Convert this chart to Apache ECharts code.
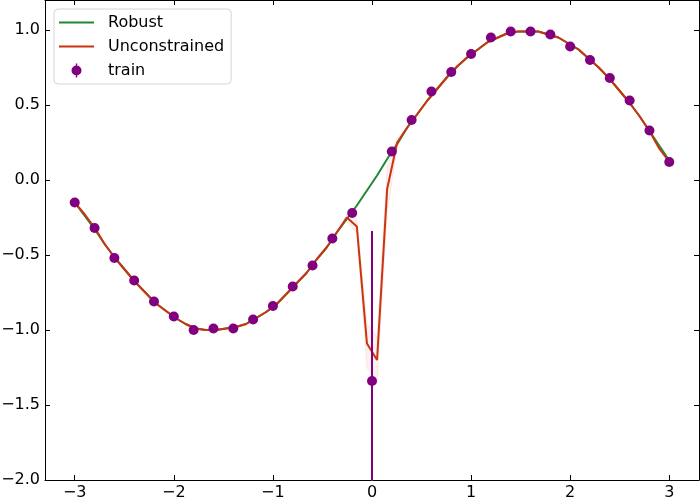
<!DOCTYPE html>
<html>
<head>
    <meta charset="UTF-8">
    <script src="https://cdn.jsdelivr.net/npm/echarts@6/dist/echarts.min.js"></script>
    <style>
        html, body { margin: 0; padding: 0; background: #fff; }
        #main { width: 700px; height: 500px; }
    </style>
</head>
<body>
<div id="main"></div>
<script type="text/javascript">
    // training points (x step 0.2), outlier at x = 0
    var trainX = [-3.0, -2.8, -2.6, -2.4, -2.2, -2.0, -1.8, -1.6, -1.4, -1.2, -1.0, -0.8, -0.6, -0.4, -0.2,
        0.0, 0.2, 0.4, 0.6, 0.8, 1.0, 1.2, 1.4, 1.6, 1.8, 2.0, 2.2, 2.4, 2.6, 2.8, 3.0];
    var trainY = [-0.15, -0.32, -0.52, -0.67, -0.81, -0.91, -1.00, -0.99, -0.99, -0.93, -0.84, -0.71, -0.57, -0.39, -0.22,
        -1.34, 0.19, 0.40, 0.59, 0.72, 0.84, 0.95, 0.99, 0.99, 0.97, 0.89, 0.80, 0.68, 0.53, 0.33, 0.12];
    // error bar on the outlier
    var errX = 0.0;
    var errLow = -2.34;
    var errHigh = -0.34;

    // prediction grid, 60 points from -3 to 3
    var gridX = [-3.000, -2.898, -2.797, -2.695, -2.593, -2.492, -2.390, -2.288, -2.186, -2.085,
        -1.983, -1.881, -1.780, -1.678, -1.576, -1.475, -1.373, -1.271, -1.169, -1.068,
        -0.966, -0.864, -0.763, -0.661, -0.559, -0.458, -0.356, -0.254, -0.153, -0.051,
        0.051, 0.153, 0.254, 0.356, 0.458, 0.559, 0.661, 0.763, 0.864, 0.966,
        1.068, 1.169, 1.271, 1.373, 1.475, 1.576, 1.678, 1.780, 1.881, 1.983,
        2.085, 2.186, 2.288, 2.390, 2.492, 2.593, 2.695, 2.797, 2.898, 3.000];
    var robustY = [-0.15, -0.24, -0.33, -0.43, -0.52, -0.60, -0.68, -0.75, -0.82, -0.87,
        -0.92, -0.96, -0.99, -1.00, -1.00, -0.99, -0.98, -0.96, -0.92, -0.88,
        -0.83, -0.76, -0.69, -0.62, -0.53, -0.45, -0.35, -0.26, -0.17, -0.07,
        0.03, 0.14, 0.24, 0.35, 0.44, 0.53, 0.61, 0.69, 0.76, 0.82,
        0.87, 0.92, 0.95, 0.98, 0.99, 0.99, 0.99, 0.97, 0.95, 0.91,
        0.87, 0.81, 0.75, 0.68, 0.60, 0.52, 0.43, 0.33, 0.23, 0.13];
    var unconY = [-0.15, -0.23, -0.32, -0.43, -0.52, -0.60, -0.68, -0.75, -0.82, -0.87,
        -0.92, -0.96, -0.99, -1.00, -1.00, -0.99, -0.98, -0.96, -0.92, -0.88,
        -0.83, -0.76, -0.69, -0.62, -0.53, -0.45, -0.35, -0.25, -0.31, -1.09,
        -1.20, -0.06, 0.25, 0.35, 0.44, 0.53, 0.61, 0.69, 0.76, 0.82,
        0.87, 0.92, 0.95, 0.98, 0.99, 0.99, 0.99, 0.97, 0.95, 0.91,
        0.87, 0.81, 0.75, 0.68, 0.60, 0.52, 0.43, 0.33, 0.21, 0.12];
    // faint uncertainty band of the unconstrained fit (only visible around 0)
    var bandX = [-0.356, -0.254, -0.153, -0.051, 0.051, 0.153, 0.254, 0.356];
    var bandLow = [-0.35, -0.27, -0.36, -1.25, -1.36, -0.22, 0.22, 0.35];
    var bandHigh = [-0.35, -0.23, -0.26, -0.95, -1.05, 0.09, 0.28, 0.35];

    var xTicks = [-3, -2, -1, 0, 1, 2, 3];
    var yTicks = [-2.0, -1.5, -1.0, -0.5, 0.0, 0.5, 1.0];

    function zip(xs, ys) {
        var out = [];
        for (var i = 0; i < xs.length; i++) {
            out.push([xs[i], ys[i]]);
        }
        return out;
    }

    function minus(s) {
        return s.replace('-', '\u2212');
    }

    var font = 'DejaVu Sans';
    var tick = {show: true, inside: true, length: 5, lineStyle: {color: '#000', width: 1}};
    var line = {show: true, onZero: false, lineStyle: {color: '#000', width: 1}};
    var lineIcon = 'path://M0,0 L35,0 L35,2 L0,2 Z';

    var bandData = [];
    for (var i = 0; i < bandX.length; i++) {
        bandData.push([bandX[i], bandLow[i], bandHigh[i]]);
    }

    var myChart = echarts.init(document.getElementById('main'));
    var option = {
        animation: false,
        backgroundColor: '#fff',
        grid: {left: 45, right: 1, top: 0, bottom: 20, containLabel: false, outerBoundsMode: 'none'},
        legend: {
            orient: 'vertical',
            left: 54,
            top: 9,
            padding: [4, 7, 4, 5],
            itemWidth: 35,
            itemHeight: 14,
            itemGap: 5,
            backgroundColor: 'rgba(255,255,255,0.8)',
            borderColor: '#d5d5d5',
            borderWidth: 1,
            borderRadius: 4,
            textStyle: {fontFamily: font, fontSize: 16, color: '#000', lineHeight: 19, padding: [0, 0, 0, 9]},
            data: [
                {name: 'Robust', icon: lineIcon},
                {name: 'Unconstrained', icon: lineIcon},
                {
                    name: 'train',
                    icon: 'path://M6.3,0 L7.7,0 L7.7,2.2 L6.3,2.2 Z M6.3,11.8 L7.7,11.8 L7.7,14 L6.3,14 Z ' +
                        'M7,2 A5,5 0 1,1 7,12 A5,5 0 1,1 7,2 Z'
                }
            ]
        },
        xAxis: [{
            type: 'value',
            min: -3.3,
            max: 3.3,
            axisLine: line,
            axisTick: Object.assign({customValues: xTicks}, tick),
            splitLine: {show: false},
            axisLabel: {
                customValues: xTicks,
                margin: 5,
                fontFamily: font,
                fontSize: 16,
                color: '#000',
                formatter: function (v) { return minus(String(v)); }
            }
        }, {
            type: 'value',
            position: 'top',
            min: -3.3,
            max: 3.3,
            axisLine: line,
            axisTick: Object.assign({customValues: xTicks}, tick),
            splitLine: {show: false},
            axisLabel: {show: false}
        }],
        yAxis: [{
            type: 'value',
            min: -2,
            max: 1.2,
            axisLine: line,
            axisTick: Object.assign({customValues: yTicks}, tick),
            splitLine: {show: false},
            axisLabel: {
                customValues: yTicks,
                margin: 5,
                fontFamily: font,
                fontSize: 16,
                color: '#000',
                formatter: function (v) { return minus(v.toFixed(1)); }
            }
        }, {
            type: 'value',
            position: 'right',
            min: -2,
            max: 1.2,
            axisLine: line,
            axisTick: Object.assign({customValues: yTicks}, tick),
            splitLine: {show: false},
            axisLabel: {show: false}
        }],
        series: [
            {
                name: 'Robust',
                type: 'line',
                data: zip(gridX, robustY),
                symbol: 'none',
                color: '#228833',
                lineStyle: {width: 2, color: '#228833'},
                z: 2
            },
            {
                name: 'band',
                type: 'custom',
                data: bandData,
                z: 3,
                silent: true,
                renderItem: function (params, api) {
                    if (params.dataIndex !== 0) return;
                    var upper = [], lower = [];
                    for (var i = 0; i < bandData.length; i++) {
                        upper.push(api.coord([bandData[i][0], bandData[i][2]]));
                        lower.unshift(api.coord([bandData[i][0], bandData[i][1]]));
                    }
                    return {
                        type: 'polygon',
                        shape: {points: upper.concat(lower)},
                        style: {fill: 'rgba(204,51,17,0.07)', stroke: 'rgba(204,51,17,0.08)', lineWidth: 1}
                    };
                }
            },
            {
                name: 'Unconstrained',
                type: 'line',
                data: zip(gridX, unconY),
                symbol: 'none',
                color: '#cc3311',
                lineStyle: {width: 2, color: '#cc3311'},
                z: 4
            },
            {
                name: 'train',
                type: 'line',
                data: [[errX, errLow], [errX, errHigh]],
                symbol: 'none',
                color: '#800080',
                lineStyle: {width: 2, color: '#800080'},
                z: 5
            },
            {
                name: 'train',
                type: 'scatter',
                data: zip(trainX, trainY),
                symbol: 'circle',
                symbolSize: 10,
                color: '#800080',
                itemStyle: {color: '#800080', opacity: 1},
                z: 6
            }
        ]
    };
    myChart.setOption(option);
</script>
</body>
</html>
